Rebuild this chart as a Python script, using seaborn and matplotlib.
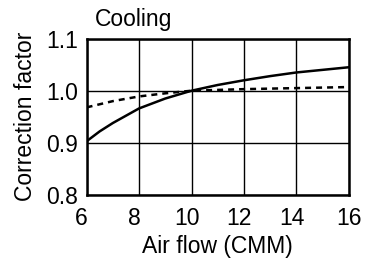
import matplotlib
matplotlib.use("Agg")
import matplotlib.pyplot as plt
import matplotlib.transforms as mtransforms
import seaborn as sns
import pandas as pd

solid_x = [6.0, 6.5, 7.0, 7.5, 8.0, 9.0, 10.0, 11.0, 12.0, 13.0, 14.0, 15.0, 16.0]
solid_y = [0.903, 0.922, 0.938, 0.952, 0.966, 0.985, 1.000, 1.011, 1.020, 1.028, 1.035, 1.040, 1.045]
dash_x = [6.0, 7.0, 8.0, 9.0, 10.0, 12.0, 14.0, 16.0]
dash_y = [0.968, 0.980, 0.989, 0.995, 1.000, 1.003, 1.005, 1.007]
x_ticks = [6, 8, 10, 12, 14, 16]
y_ticks = [0.8, 0.9, 1.0, 1.1]
y_tick_labels = ["0.8", "0.9", "1.0", "1.1"]

df = pd.concat([
    pd.DataFrame({"x": solid_x, "y": solid_y, "s": "a"}),
    pd.DataFrame({"x": dash_x, "y": dash_y, "s": "b"}),
])

sns.set_theme(style="white")
plt.rcParams['font.family'] = ['Liberation Sans', 'DejaVu Sans']

fig = plt.figure(figsize=(3.7, 2.66), dpi=100)
ax = fig.add_axes([0.234, 0.267, 0.709, 0.588])
sns.lineplot(data=df, x="x", y="y", style="s", dashes={"a": "", "b": (2.4, 2)},
             color="black", linewidth=1.8, legend=False, ax=ax, zorder=3)
ax.set_xlim(6, 16)
ax.set_ylim(0.8, 1.1)
ax.set_xticks(x_ticks)
ax.set_yticks(y_ticks)
ax.set_yticklabels(y_tick_labels)
ax.grid(True, color="black", linewidth=1.0)
for sp in ax.spines.values():
    sp.set_color("black")
    sp.set_linewidth(1.8)
ax.tick_params(axis="x", labelsize=16.5, colors="black", length=0, pad=9)
ax.tick_params(axis="y", labelsize=16.5, colors="black", length=0, pad=6)
offset = mtransforms.ScaledTranslation(-5 / 100, 0, fig.dpi_scale_trans)
for lbl in ax.get_xticklabels()[:-1]:
    lbl.set_transform(lbl.get_transform() + offset)
ax.set_xlabel("Air flow (CMM)", fontsize=16.5, color="black", labelpad=3)
ax.set_ylabel("Correction factor", fontsize=16.5, color="black", labelpad=7)
ax.text(0.03, 1.05, "Cooling", transform=ax.transAxes, fontsize=16.5, color="black",
        ha="left", va="bottom")
fig.savefig("out.png", dpi=100)
